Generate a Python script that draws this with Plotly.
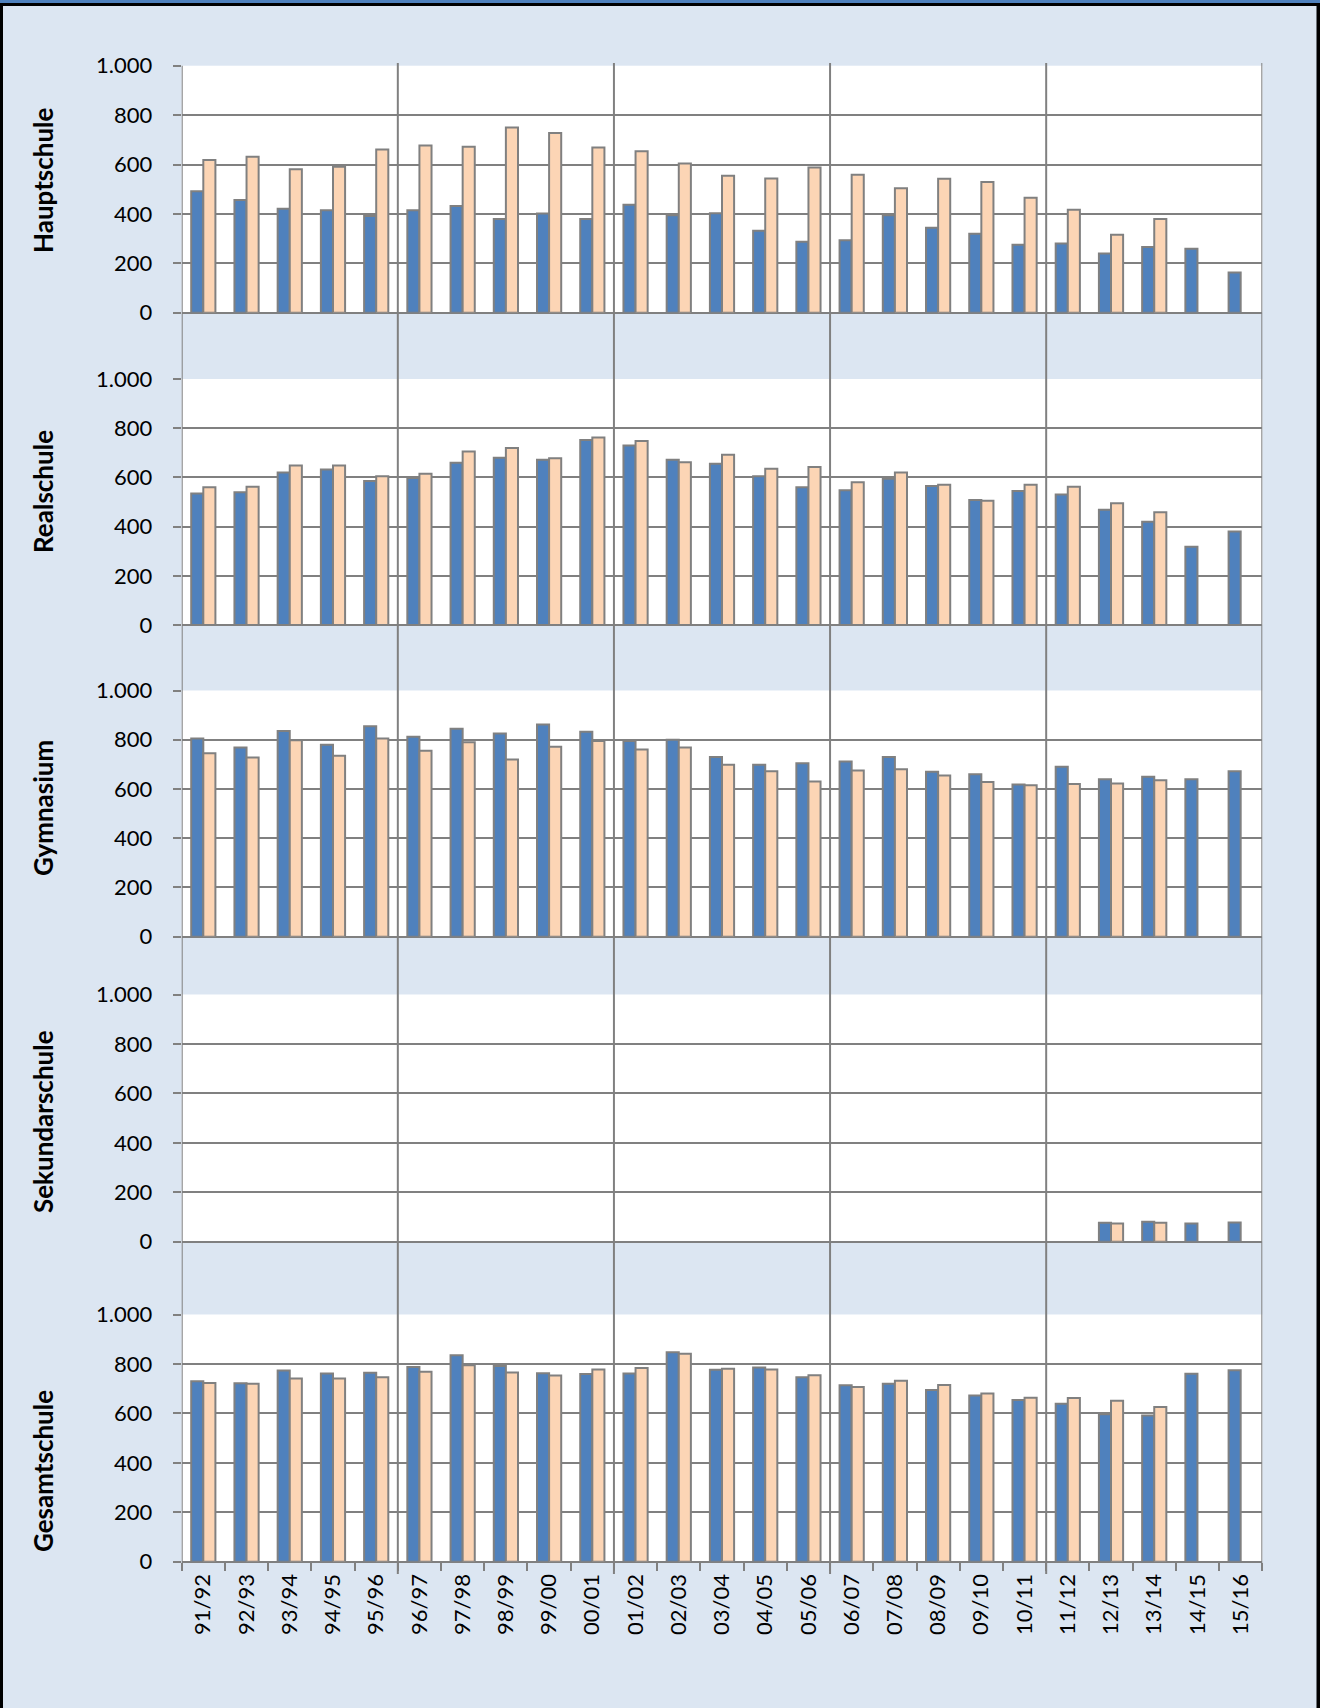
import plotly.graph_objects as go

# ---------------- data ----------------
years = ["91/92", "92/93", "93/94", "94/95", "95/96", "96/97", "97/98", "98/99", "99/00", "00/01",
         "01/02", "02/03", "03/04", "04/05", "05/06", "06/07", "07/08", "08/09", "09/10", "10/11",
         "11/12", "12/13", "13/14", "14/15", "15/16"]

school_types = ["Hauptschule", "Realschule", "Gymnasium", "Sekundarschule", "Gesamtschule"]

haupt_blue = [492, 456, 421, 415, 391, 415, 432, 379, 402, 379, 437, 395, 403, 332, 287,
              293, 395, 344, 320, 275, 280, 240, 266, 259, 163]
haupt_orange = [618, 631, 581, 591, 661, 677, 672, 750, 728, 669, 654, 604, 554, 543, 588,
                558, 504, 542, 529, 465, 417, 316, 379, None, None]

real_blue = [535, 540, 620, 632, 585, 598, 660, 680, 672, 752, 730, 672, 655, 605, 560,
             548, 595, 565, 508, 545, 530, 468, 420, 318, 380]
real_orange = [560, 562, 648, 648, 605, 615, 705, 720, 678, 762, 748, 662, 692, 635, 642,
               580, 620, 570, 505, 570, 562, 495, 458, None, None]

gym_blue = [805, 768, 835, 780, 855, 812, 845, 825, 862, 832, 795, 800, 730, 698, 705,
            712, 730, 670, 660, 618, 690, 640, 650, 640, 672]
gym_orange = [745, 728, 798, 735, 805, 755, 790, 720, 772, 795, 760, 768, 698, 672, 630,
              675, 680, 655, 628, 615, 620, 622, 635, None, None]

sek_blue = [None] * 21 + [77, 81, 74, 78]
sek_orange = [None] * 21 + [74, 77, None, None]

ges_blue = [730, 722, 773, 761, 764, 788, 835, 792, 762, 759, 761, 847, 776, 786, 746,
            714, 720, 695, 672, 654, 639, 596, 591, 760, 774]
ges_orange = [723, 720, 741, 741, 746, 768, 795, 765, 753, 778, 784, 841, 781, 778, 754,
              707, 732, 715, 680, 663, 662, 651, 626, None, None]

blue_series = [haupt_blue, real_blue, gym_blue, sek_blue, ges_blue]
orange_series = [haupt_orange, real_orange, gym_orange, sek_orange, ges_orange]

y_ticks = [0, 200, 400, 600, 800, 1000]

# ---------------- style ----------------
W, H = 1320, 1708
BG = "#dce6f2"
BLUE = "#4f81bd"
ORANGE = "#fcd5b5"
GRAY = "#808080"
FONT = "Lato"
LW = 2

# panel pixel extents (top, bottom)
panels_px = [(65.7, 312.7), (379.0, 625.0), (690.5, 936.7), (994.5, 1241.7), (1314.5, 1561.7)]
title_cy = [180, 492, 808, 1122, 1471]
x_left, x_right = 181.7, 1262.3
xdom = [x_left / W, x_right / W]


def py(p):
    return 1 - p / H


fig = go.Figure()

for i in range(5):
    n = "" if i == 0 else str(i + 1)
    fig.add_trace(go.Bar(x=years, y=blue_series[i], name="Reihe 1", marker_color=BLUE,
                         marker_line=dict(color=GRAY, width=LW), showlegend=False,
                         xaxis="x" + n, yaxis="y" + n))
    fig.add_trace(go.Bar(x=years, y=orange_series[i], name="Reihe 2", marker_color=ORANGE,
                         marker_line=dict(color=GRAY, width=LW), showlegend=False,
                         xaxis="x" + n, yaxis="y" + n))

layout = dict(
    width=W, height=H, margin=dict(l=0, r=0, t=0, b=0, pad=0), autosize=False,
    paper_bgcolor=BG, plot_bgcolor="white",
    barmode="group", bargap=0.44, bargroupgap=0.0,
    separators=",.",
    font=dict(family=FONT, size=22, color="black"),
    showlegend=False,
)

for i in range(5):
    n = "" if i == 0 else str(i + 1)
    top, bot = panels_px[i]
    layout["xaxis" + n] = dict(
        domain=xdom, anchor="y" + n, type="category", range=[-0.5, 24.5],
        automargin=False,
        showgrid=False, zeroline=False, showline=False,
        showticklabels=(i == 4), ticks="outside" if i == 4 else "",
        tickson="boundaries", ticklen=8, tickwidth=LW, tickcolor=GRAY,
        tickangle=-90, tickfont=dict(family=FONT, size=22, color="black"),
        ticklabelstandoff=7,
        **({} if i == 0 else {"matches": "x"})
    )
    layout["yaxis" + n] = dict(
        domain=[py(bot), py(top)], anchor="x" + n, range=[0, 1000],
        automargin=False,
        tickvals=y_ticks, tickformat=",d",
        showgrid=True, gridcolor=GRAY, gridwidth=LW,
        zeroline=True, zerolinecolor=GRAY, zerolinewidth=LW,
        showline=False, ticks="outside", ticklen=8, tickwidth=LW, tickcolor=GRAY,
        ticklabelstandoff=16, tickfont=dict(family=FONT, size=22, color="black"),
    )

fig.update_layout(**layout)

shapes = []
# vertical divider lines across all panels (every 5 school years)
for xv, t, b in [(-0.5, 65.7, 1570), (4.5, 63, 1574), (9.5, 63, 1574), (14.5, 63, 1574),
                 (19.5, 63, 1574), (24.5, 63, 1570)]:
    shapes.append(dict(type="line", xref="x5", yref="paper", x0=xv, x1=xv, y0=py(b), y1=py(t),
                       line=dict(color=GRAY, width=LW), layer="above"))
# frame: title strip + black border
shapes.append(dict(type="rect", xref="paper", yref="paper", x0=0, x1=1, y0=py(3), y1=1,
                   fillcolor=BLUE, line=dict(width=0)))
shapes.append(dict(type="rect", xref="paper", yref="paper", x0=0, x1=1, y0=py(6), y1=py(3),
                   fillcolor="black", line=dict(width=0)))
shapes.append(dict(type="rect", xref="paper", yref="paper", x0=0, x1=3 / W, y0=0, y1=py(3),
                   fillcolor="black", line=dict(width=0)))
shapes.append(dict(type="rect", xref="paper", yref="paper", x0=1316.5 / W, x1=1, y0=0, y1=py(3),
                   fillcolor="black", line=dict(width=0)))
fig.update_layout(shapes=shapes)

annotations = []
for name, cy in zip(school_types, title_cy):
    annotations.append(dict(text="<b>" + name + "</b>", xref="paper", yref="paper",
                            x=43 / W, y=py(cy), textangle=-90, showarrow=False,
                            xanchor="center", yanchor="middle",
                            font=dict(family=FONT, size=26, color="black")))
fig.update_layout(annotations=annotations)

fig.write_html("out.html", config={"displayModeBar": False},
               post_script="document.body.style.margin='0';document.body.style.padding='0';"
                           "document.body.style.background='" + BG + "';")
